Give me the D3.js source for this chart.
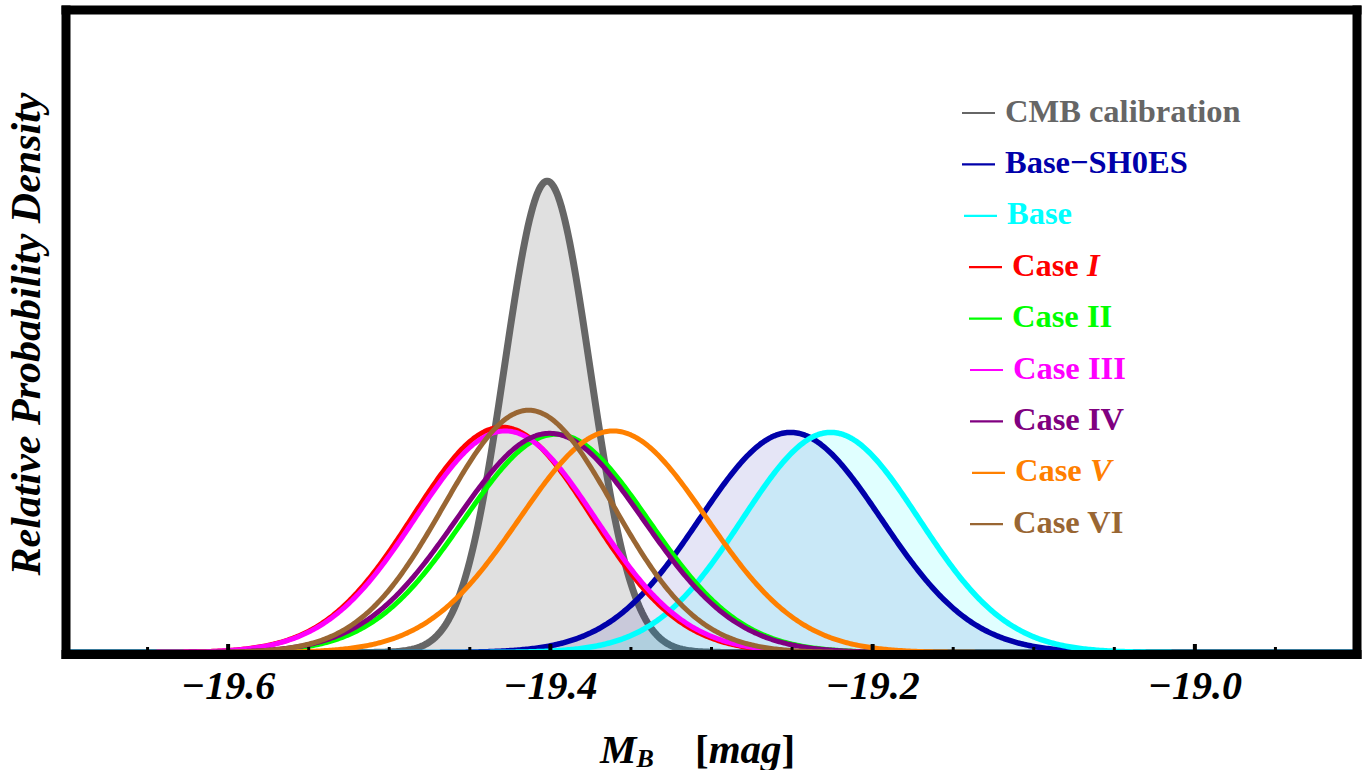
<!DOCTYPE html>
<html>
<head>
<meta charset="utf-8">
<script src="https://cdn.jsdelivr.net/npm/d3@7"></script>
<style>
  html, body { margin: 0; padding: 0; background: #ffffff; }
  svg { display: block; }
  text { font-family: "Liberation Serif", "Times New Roman", serif; font-weight: bold; }
</style>
</head>
<body>
<svg id="chart" width="1364" height="770"></svg>
<script>
// Posterior distributions of the SN Ia absolute magnitude M_B
const labels      = ["CMB calibration", "Base\u2212SH0ES", "Base", "Case ", "Case II", "Case III", "Case IV", "Case ", "Case VI"];
const labelItalic = ["", "", "", "I", "", "", "", "V", ""];
const means       = [-19.402, -19.251, -19.226, -19.430, -19.3965, -19.428, -19.4004, -19.361, -19.4135];
const sigmas      = [0.0265, 0.0564, 0.0548, 0.0553, 0.0574, 0.0559, 0.0580, 0.0580, 0.0526];
const peaks       = [1.000, 0.467, 0.467, 0.478, 0.463, 0.470, 0.465, 0.470, 0.514];
const colors      = ["#666666", "#0000aa", "#00ffff", "#ff0000", "#00ff00", "#ff00ff", "#800080", "#ff8000", "#996633"];

const xTicksMajor = [-19.6, -19.4, -19.2, -19.0];
const xTicksMinor = [-19.65, -19.55, -19.5, -19.45, -19.35, -19.3, -19.25, -19.15, -19.1, -19.05, -18.95];
const xDomain = [-19.7, -18.9];
const yDomain = [0, 1.36];

const svg = d3.select("#chart");
const x = d3.scaleLinear().domain(xDomain).range([67, 1356]);
const y = d3.scaleLinear().domain(yDomain).range([652.5, 11.5]);

// plotting region: curves resting on zero sink under the bottom frame edge
const clipBottom = 650;
svg.append("defs").append("clipPath").attr("id", "plot-clip")
  .append("rect").attr("x", x(xDomain[0])).attr("y", 10)
  .attr("width", x(xDomain[1]) - x(xDomain[0])).attr("height", clipBottom - 10);

// density curve for one distribution, sampled across the axis range
const grid = d3.range(0, 801).map(i => xDomain[0] + (xDomain[1] - xDomain[0]) * i / 800);
function density(k) {
  return grid.map(v => [v, peaks[k] * Math.exp(-0.5 * Math.pow((v - means[k]) / sigmas[k], 2))]);
}
const line = d3.line().x(d => x(d[0])).y(d => y(d[1]));
const area = d3.area().x(d => x(d[0])).y0(y(0)).y1(d => y(d[1]));

const plot = svg.append("g").attr("clip-path", "url(#plot-clip)");
const fillOpacity = { 0: 0.2, 1: 0.1, 2: 0.12 };

// CMB calibration: filled, then outline
plot.append("path").attr("d", area(density(0))).attr("fill", colors[0]).attr("fill-opacity", fillOpacity[0]);
plot.append("path").attr("d", line(density(0))).attr("fill", "none").attr("stroke", colors[0])
  .attr("stroke-width", 7).attr("stroke-linejoin", "round");

// Base-SH0ES and Base: filled
[1, 2].forEach(k => {
  plot.append("path").attr("d", area(density(k))).attr("fill", colors[k]).attr("fill-opacity", fillOpacity[k]);
});
[1, 2].forEach(k => {
  plot.append("path").attr("d", line(density(k))).attr("fill", "none").attr("stroke", colors[k])
    .attr("stroke-width", 5.5).attr("stroke-linejoin", "round");
});

// Cases I-VI: outlines only
[3, 4, 5, 6, 7, 8].forEach(k => {
  plot.append("path").attr("d", line(density(k))).attr("fill", "none").attr("stroke", colors[k])
    .attr("stroke-width", 5).attr("stroke-linejoin", "round");
});

// frame
const frame = svg.append("g").attr("stroke", "#000").attr("stroke-width", 9).attr("stroke-linecap", "square");
frame.append("line").attr("x1", 66).attr("x2", 66).attr("y1", 10).attr("y2", 654.5);
frame.append("line").attr("x1", 1357).attr("x2", 1357).attr("y1", 10).attr("y2", 654.5);
frame.append("line").attr("x1", 66).attr("x2", 1357).attr("y1", 10).attr("y2", 10);
frame.append("line").attr("x1", 66).attr("x2", 1357).attr("y1", 654.5).attr("y2", 654.5);

// bottom axis ticks and labels
const axisG = svg.append("g");
axisG.selectAll("line.major").data(xTicksMajor).enter().append("line")
  .attr("x1", d => x(d)).attr("x2", d => x(d)).attr("y1", 651).attr("y2", 644)
  .attr("stroke", "#000").attr("stroke-width", 4);
axisG.selectAll("line.minor").data(xTicksMinor).enter().append("line")
  .attr("x1", d => x(d)).attr("x2", d => x(d)).attr("y1", 651).attr("y2", 647)
  .attr("stroke", "#000").attr("stroke-width", 3);
axisG.selectAll("text").data(xTicksMajor).enter().append("text")
  .attr("x", d => x(d)).attr("y", 699)
  .attr("text-anchor", "middle").attr("font-size", 40).attr("font-style", "italic")
  .text(d => "\u2212" + Math.abs(d).toFixed(1));

// axis titles
const xt = svg.append("text").attr("y", 763).attr("font-size", 41).attr("font-style", "italic");
xt.append("tspan").attr("x", 600).text("M");
xt.append("tspan").attr("font-size", 26).attr("dy", 4).text("B");
xt.append("tspan").attr("x", 695).attr("dy", -4).attr("font-style", "normal").text("[");
xt.append("tspan").text("mag");
xt.append("tspan").attr("font-style", "normal").text("]");

svg.append("text")
  .attr("transform", "translate(40,334) rotate(-90)")
  .attr("text-anchor", "middle").attr("font-size", 42).attr("font-style", "italic")
  .text("Relative Probability Density");

// legend
const legendShift = [0, 0, 2, 7, 7, 8, 8, 10, 8];
const legend = svg.append("g");
labels.forEach((lab, i) => {
  const by = 121.5 + i * 51.4;
  const dx = legendShift[i];
  legend.append("line").attr("x1", 962 + dx).attr("x2", 995 + dx)
    .attr("y1", by - 8.5).attr("y2", by - 8.5)
    .attr("stroke", colors[i]).attr("stroke-width", 2.2);
  const t = legend.append("text").attr("x", 1005 + dx).attr("y", by)
    .attr("font-size", 32.5).attr("fill", colors[i]);
  t.append("tspan").text(lab);
  if (labelItalic[i]) t.append("tspan").attr("font-style", "italic").text(labelItalic[i]);
});
</script>
</body>
</html>
